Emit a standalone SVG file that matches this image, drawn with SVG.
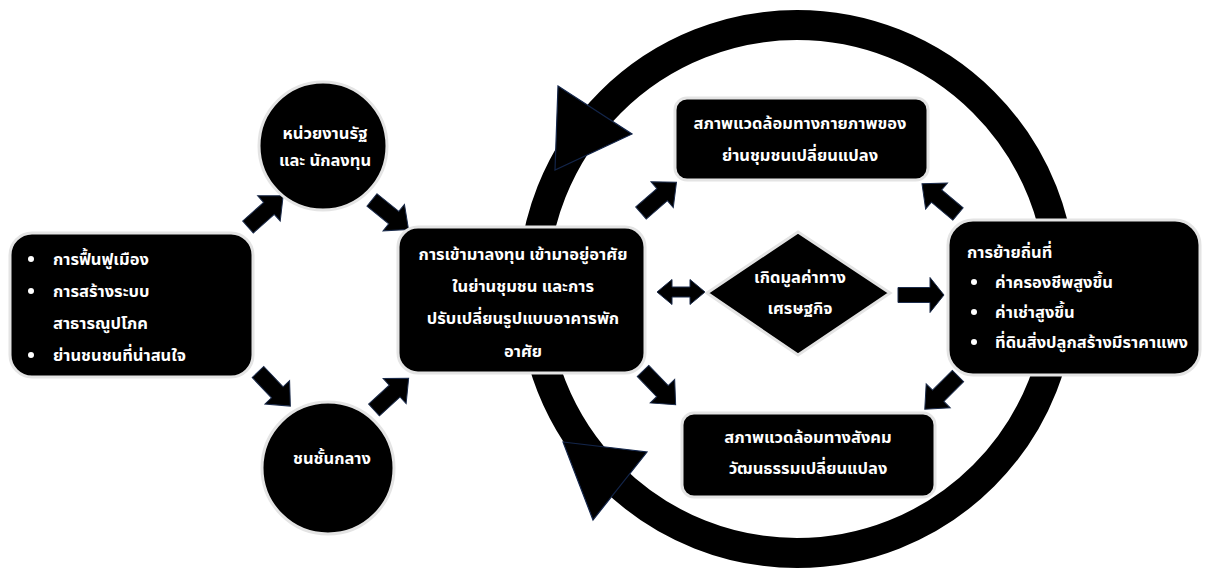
<svg xmlns="http://www.w3.org/2000/svg" xmlns:xlink="http://www.w3.org/1999/xlink" width="1205" height="569" viewBox="0 0 1205 569">
<style>
.box{fill:#000;stroke:#e4e4e4;stroke-width:3}
.t{fill:#fff;font-family:"Tahoma","Noto Sans Thai","Leelawadee UI","DejaVu Sans","Noto Sans",sans-serif;font-size:16.5px;font-weight:bold}
.c{text-anchor:middle}
.arr{fill:#000;stroke:#1b2b4b;stroke-width:1}
.tri{fill:#000;stroke:#13254a;stroke-width:1.2}
</style>
<defs>
<path id="ba" d="M0,-8 L28,-8 L28,-17 L47,0 L28,17 L28,8 L0,8 Z"/>
</defs>
<rect width="1205" height="569" fill="#fff"/>
<g id="cycle">
<circle cx="797" cy="289" r="264" fill="none" stroke="#000" stroke-width="30"/>
<polygon class="tri" points="558,86 632,134 555,170"/>
<polygon class="tri" points="563,442 647,452 593,520"/>
</g>
<g id="connectors">
<use href="#ba" class="arr" transform="translate(248,227) rotate(-41.6)"/>
<use href="#ba" class="arr" transform="translate(372,200) rotate(39)"/>
<use href="#ba" class="arr" transform="translate(258,372) rotate(46.5)"/>
<use href="#ba" class="arr" transform="translate(374,410) rotate(-42.5)"/>
<use href="#ba" class="arr" transform="translate(641,213) rotate(-41)"/>
<use href="#ba" class="arr" transform="translate(643,371) rotate(46)"/>
<use href="#ba" class="arr" transform="translate(958,214) rotate(-140)"/>
<use href="#ba" class="arr" transform="translate(958,376) rotate(135)"/>
<path class="arr" d="M898,287.5 L930,287.5 L930,277.5 L944,295 L930,312.5 L930,302.5 L898,302.5 Z"/>
<path class="arr" d="M657,292 L672,279.5 L672,287 L690,287 L690,279.5 L705,292 L690,304.5 L690,297 L672,297 L672,304.5 Z"/>
</g>
<g id="n-left">
<rect class="box" x="10" y="233" width="243" height="144" rx="22"/>
<circle cx="31" cy="259" r="3" fill="#fff"/>
<circle cx="31" cy="291" r="3" fill="#fff"/>
<circle cx="31" cy="355" r="3" fill="#fff"/>
<text class="t" x="53" y="265">การฟื้นฟูเมือง</text>
<text class="t" x="53" y="297">การสร้างระบบ</text>
<text class="t" x="53" y="329">สาธารณูปโภค</text>
<text class="t" x="53" y="361">ย่านชนชนที่น่าสนใจ</text>
</g>
<g id="n-gov">
<circle class="box" cx="323" cy="146" r="64"/>
<text class="t c" x="325" y="139">หน่วยงานรัฐ</text>
<text class="t c" x="325" y="166">และ นักลงทุน</text>
</g>
<g id="n-middle">
<circle class="box" cx="328" cy="468" r="66"/>
<text class="t c" x="332" y="464">ชนชั้นกลาง</text>
</g>
<g id="n-center">
<rect class="box" x="398" y="227" width="247" height="146" rx="20"/>
<text class="t c" x="523" y="260">การเข้ามาลงทุน เข้ามาอยู่อาศัย</text>
<text class="t c" x="523" y="292">ในย่านชุมชน และการ</text>
<text class="t c" x="523" y="324">ปรับเปลี่ยนรูปแบบอาคารพัก</text>
<text class="t c" x="523" y="357">อาศัย</text>
</g>
<g id="n-econ">
<polygon class="box" points="798,232 890,293 798,355 707,293"/>
<text class="t c" x="800" y="283">เกิดมูลค่าทาง</text>
<text class="t c" x="800" y="314">เศรษฐกิจ</text>
</g>
<g id="n-physical">
<rect class="box" x="675" y="98" width="253" height="82" rx="12"/>
<text class="t c" x="800" y="129">สภาพแวดล้อมทางกายภาพของ</text>
<text class="t c" x="800" y="161">ย่านชุมชนเปลี่ยนแปลง</text>
</g>
<g id="n-social">
<rect class="box" x="682" y="413" width="253" height="84" rx="12"/>
<text class="t c" x="808" y="443">สภาพแวดล้อมทางสังคม</text>
<text class="t c" x="808" y="474">วัฒนธรรมเปลี่ยนแปลง</text>
</g>
<g id="n-migration">
<rect class="box" x="948" y="220" width="252" height="155" rx="25"/>
<text class="t" x="967" y="258">การย้ายถิ่นที่</text>
<circle cx="974" cy="282" r="3" fill="#fff"/>
<circle cx="974" cy="312" r="3" fill="#fff"/>
<circle cx="974" cy="342" r="3" fill="#fff"/>
<text class="t" x="995" y="288">ค่าครองชีพสูงขึ้น</text>
<text class="t" x="995" y="318">ค่าเช่าสูงขึ้น</text>
<text class="t" x="995" y="348">ที่ดินสิ่งปลูกสร้างมีราคาแพง</text>
</g>
</svg>
